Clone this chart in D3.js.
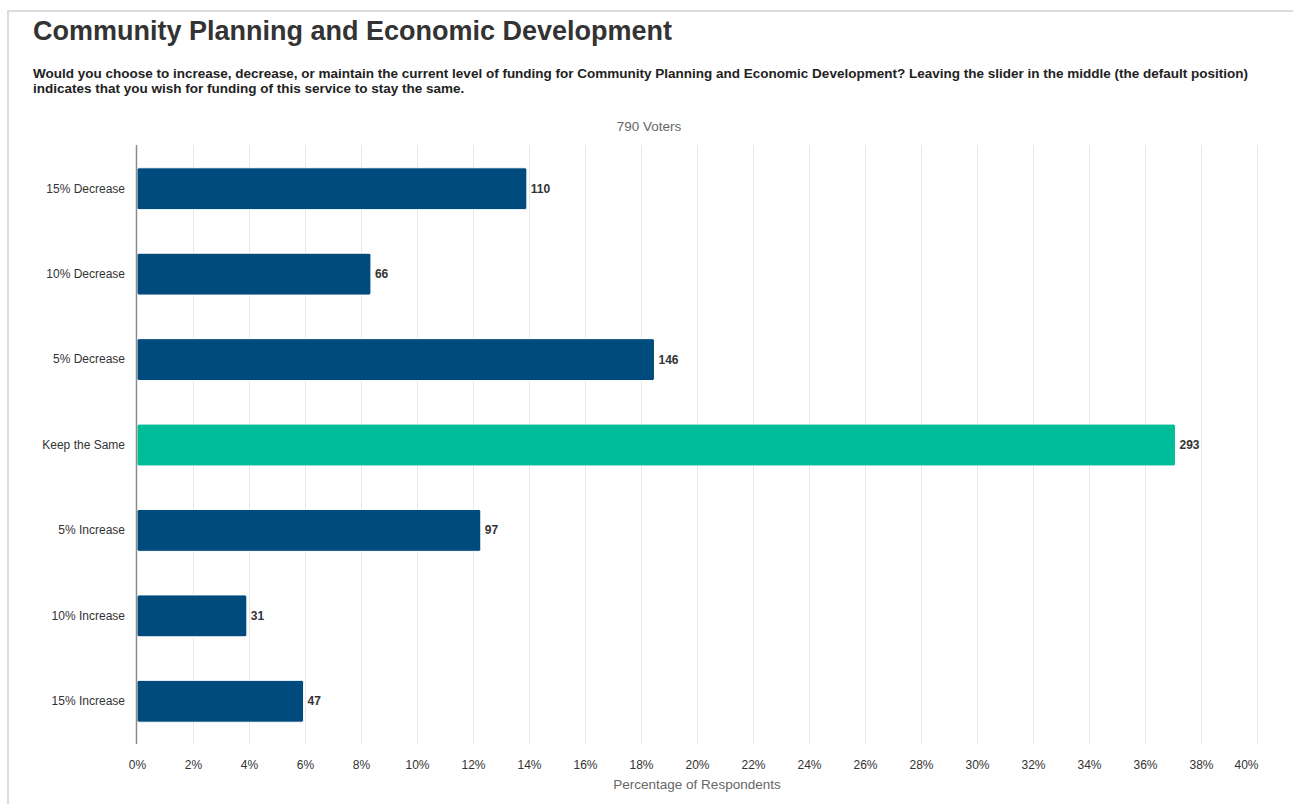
<!DOCTYPE html>
<html>
<head>
<meta charset="utf-8">
<script src="https://cdn.jsdelivr.net/npm/d3@7/dist/d3.min.js"></script>
<style>
  html, body { margin: 0; padding: 0; background: #fff; }
  svg { display: block; font-family: "Liberation Sans", Arial, Helvetica, sans-serif; }
</style>
</head>
<body>
<svg id="chart" width="1293" height="804"></svg>
<script>
// Survey responses per funding option
const categories = ["15% Decrease", "10% Decrease", "5% Decrease", "Keep the Same", "5% Increase", "10% Increase", "15% Increase"];
const counts = [110, 66, 146, 293, 97, 31, 47];
const totalVoters = 790;
const tickValues = [0, 2, 4, 6, 8, 10, 12, 14, 16, 18, 20, 22, 24, 26, 28, 30, 32, 34, 36, 38, 40];
const highlighted = "Keep the Same";

const titleText = "Community Planning and Economic Development";
const subtitleLines = [
  "Would you choose to increase, decrease, or maintain the current level of funding for Community Planning and Economic Development? Leaving the slider in the middle (the default position)",
  "indicates that you wish for funding of this service to stay the same."
];

const svg = d3.select("#chart");
const W = 1293, H = 804;

// Card frame (top and left edges)
svg.append("line").attr("x1", 7.5).attr("x2", W).attr("y1", 11).attr("y2", 11)
  .attr("stroke", "#dcdcdc").attr("stroke-width", 2);
svg.append("line").attr("x1", 8).attr("x2", 8).attr("y1", 10).attr("y2", H)
  .attr("stroke", "#dcdcdc").attr("stroke-width", 2);

// Heading
svg.append("text").attr("x", 33).attr("y", 40)
  .attr("font-size", 27).attr("font-weight", "bold").attr("fill", "#333")
  .text(titleText);

svg.append("g").selectAll("text").data(subtitleLines).join("text")
  .attr("x", 33).attr("y", (d, i) => 78 + i * 15)
  .attr("font-size", 13.5).attr("font-weight", "bold").attr("fill", "#222")
  .text(d => d);

const x = d3.scaleLinear().domain([0, 40]).range([137, 1257]);
const plotTop = 146, plotBottom = 744;
const y = d3.scaleBand().domain(categories).range([plotTop, plotBottom]).paddingInner(0.51).paddingOuter(0.255);

// Caption above the plot
svg.append("text").attr("x", 649).attr("y", 131)
  .attr("text-anchor", "middle").attr("font-size", 13.5).attr("fill", "#666")
  .text(`${totalVoters} Voters`);

// Vertical gridlines
svg.append("g").selectAll("line").data(tickValues.filter(t => t > 0)).join("line")
  .attr("x1", d => Math.round(x(d)) + 0.5).attr("x2", d => Math.round(x(d)) + 0.5)
  .attr("y1", plotTop - 1).attr("y2", plotBottom)
  .attr("stroke", "#e6e6e6").attr("stroke-width", 1);

// Bottom axis built from the scale, labels only
const xAxis = d3.axisBottom(x).tickValues(tickValues).tickSize(0).tickFormat(d => d + "%");
const gx = svg.append("g").attr("transform", `translate(0, ${plotBottom})`).call(xAxis);
gx.select(".domain").remove();
gx.selectAll("text").attr("font-size", 12).attr("fill", "#333")
  .attr("font-family", "Liberation Sans, Arial, sans-serif")
  .attr("dy", 0).attr("y", 25);
// Last label is pulled inward to stay within the plot width
gx.selectAll(".tick").filter(d => d === 40).select("text").attr("dx", -11);

svg.append("text").attr("x", 697).attr("y", 789)
  .attr("text-anchor", "middle").attr("font-size", 13.5).attr("fill", "#666")
  .text("Percentage of Respondents");

// Bars
const pct = c => c / totalVoters * 100;
svg.append("g").selectAll("rect").data(categories).join("rect")
  .attr("x", x(0))
  .attr("y", d => y(d))
  .attr("width", (d, i) => x(pct(counts[i])) - x(0))
  .attr("height", y.bandwidth())
  .attr("rx", 2).attr("ry", 2)
  .attr("fill", d => d === highlighted ? "#00bd9a" : "#004b7d")
  .attr("stroke", "#ffffff").attr("stroke-width", 1);

// Value labels
svg.append("g").selectAll("text").data(categories).join("text")
  .attr("x", (d, i) => x(pct(counts[i])) + 4)
  .attr("y", d => y(d) + y.bandwidth() / 2 + 4)
  .attr("font-size", 12).attr("font-weight", "bold").attr("fill", "#333")
  .text((d, i) => counts[i]);

// Category axis
const yAxis = d3.axisLeft(y).tickSize(0).tickPadding(12);
const gy = svg.append("g").attr("transform", `translate(${x(0)}, 0)`).call(yAxis);
gy.select(".domain").remove();
gy.selectAll("text").attr("font-size", 12).attr("fill", "#333")
  .attr("font-family", "Liberation Sans, Arial, sans-serif");

svg.append("line").attr("x1", x(0) - 0.5).attr("x2", x(0) - 0.5)
  .attr("y1", plotTop - 1).attr("y2", plotBottom)
  .attr("stroke", "#8c8c8c").attr("stroke-width", 1.5);
</script>
</body>
</html>
